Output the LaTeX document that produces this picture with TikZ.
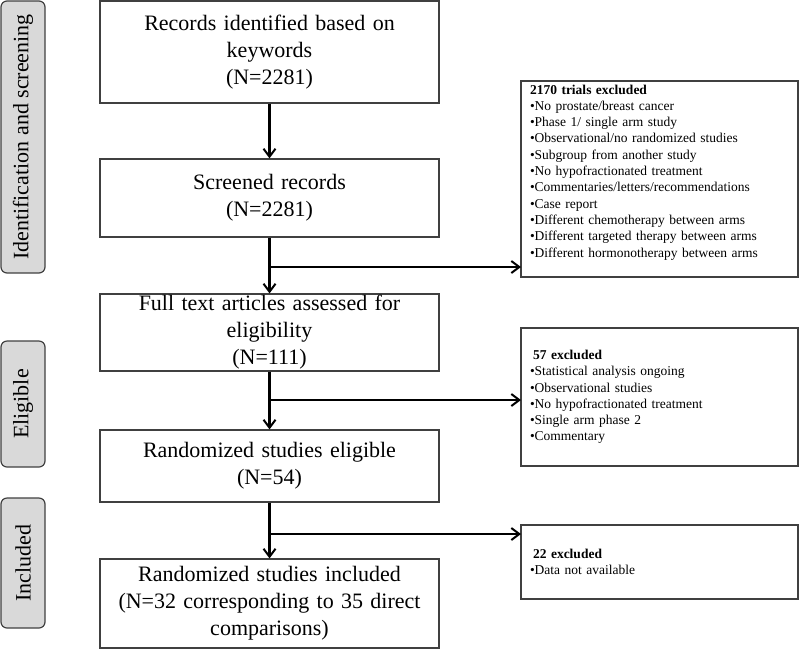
\documentclass[tikz,border=0pt]{standalone}
\usepackage{fontspec}
\setmainfont{Liberation Serif}
\usetikzlibrary{arrows.meta}
\begin{document}
\begin{tikzpicture}[x=1pt,y=-1pt,
  mainbox/.style={draw=black!75, line width=1.2pt, minimum width=339pt, inner sep=0pt,
    text width=335pt, align=center, font=\fontsize{22}{27}\selectfont},
  exbox/.style={draw=black!75, line width=1.2pt, minimum width=277pt, inner xsep=9pt, inner ysep=0pt,
    text width=259pt, align=left, font=\fontsize{13.5}{16.3}\selectfont},
  phase/.style={draw=black!75, fill=black!15, rounded corners=6pt, line width=1.2pt,
    minimum height=44pt, inner sep=0pt, rotate=90, font=\fontsize{22}{27}\selectfont},
  arr/.style={line width=2.3pt, -{Straight Barb[length=8pt,width=12pt,line width=2pt]}},
]
\useasboundingbox (0,0) rectangle (799,649);

% phase labels
\node[phase, minimum width=272pt] (p1) at (23,137) {Identification and screening};
\node[phase, minimum width=126pt] (p2) at (23,404) {Eligible};
\node[phase, minimum width=130pt] (p3) at (23,563) {Included};

% main boxes
\node[mainbox, minimum height=102pt] (b1) at (269.5,52) {Records identified based on\\keywords\\(N=2281)};
\node[mainbox, minimum height=78pt] (b2) at (269.5,198) {Screened records\\(N=2281)};
\node[mainbox, minimum height=77pt] (b3) at (269.5,332.5) {Full text articles assessed for\\eligibility\\(N=111)};
\node[mainbox, minimum height=72pt] (b4) at (269.5,466) {Randomized studies eligible\\(N=54)};
\node[mainbox, minimum height=89pt] (b5) at (269.5,603.5) {Randomized studies included\\(N=32 corresponding to 35 direct\\comparisons)};

% exclusion boxes
\node[exbox, minimum height=196pt] (e1) at (659.5,179) {\textbf{2170 trials excluded}\\
•No prostate/breast cancer\\
•Phase 1/ single arm study\\
•Observational/no randomized studies\\
•Subgroup from another study\\
•No hypofractionated treatment\\
•Commentaries/letters/recommendations\\
•Case report\\
•Different chemotherapy between arms\\
•Different targeted therapy between arms\\
•Different hormonotherapy between arms\\
\mbox{}};
\node[exbox, minimum height=138pt] (e2) at (659.5,397) {\hspace{3pt}\textbf{57 excluded}\\
•Statistical analysis ongoing\\
•Observational studies\\
•No hypofractionated treatment\\
•Single arm phase 2\\
•Commentary};
\node[exbox, minimum height=74pt] (e3) at (659.5,562) {\hspace{3pt}\textbf{22 excluded}\\
•Data not available};

% arrow targets on the exclusion boxes
\coordinate (t1) at (521,267);
\coordinate (t2) at (521,400);
\coordinate (t3) at (521,534);

% connectors
\draw[arr] (b1.south) -- (b2.north);
\draw[arr] (b2.south) -- (b3.north);
\draw[arr] (b3.south) -- (b4.north);
\draw[arr] (b4.south) -- (b5.north);
\draw[arr] (b2.south |- t1) -- (t1);
\draw[arr] (b3.south |- t2) -- (t2);
\draw[arr] (b4.south |- t3) -- (t3);
\end{tikzpicture}
\end{document}
